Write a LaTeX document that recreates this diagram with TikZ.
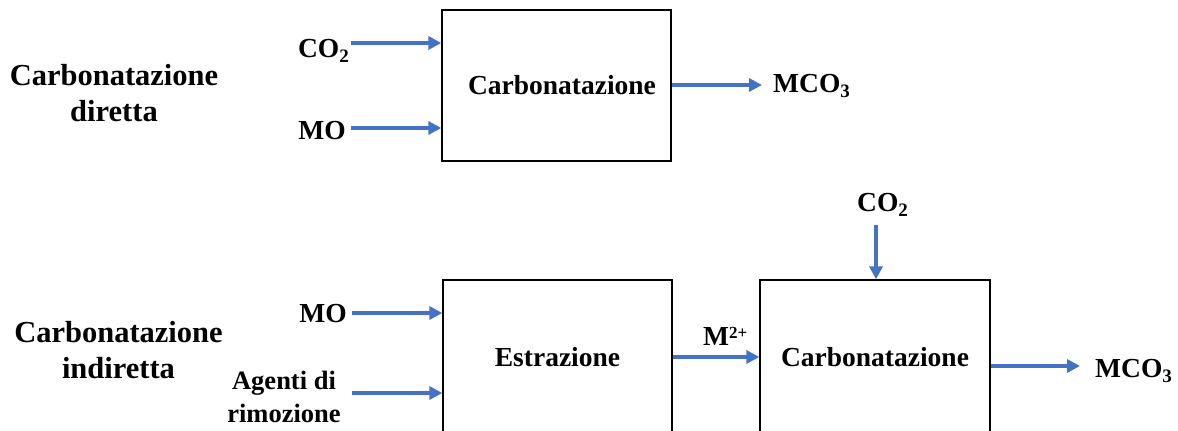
\documentclass[tikz,border=0pt]{standalone}
\usepackage{fontspec}
\setmainfont{Liberation Serif}
\usetikzlibrary{arrows.meta}
\definecolor{arrowblue}{HTML}{4472C4}
\newcommand{\subs}[1]{\raisebox{-5pt}{\fontsize{19}{19}\selectfont #1}}
\newcommand{\sups}[1]{\raisebox{7pt}{\fontsize{17}{17}\selectfont #1}}
\begin{document}
\begin{tikzpicture}[x=1pt,y=-1pt,
  procbox/.style={draw=black, line width=1.3pt, rectangle, inner sep=0pt,
    font=\fontsize{27.5}{30}\selectfont\bfseries},
  flowarrow/.style={draw=arrowblue, line width=4pt,
    -{Triangle[length=13pt,width=13pt]}},
  chem/.style={inner sep=0pt, font=\fontsize{27.5}{30}\selectfont\bfseries},
  sidelabel/.style={inner sep=0pt, align=center,
    font=\fontsize{30.5}{36}\selectfont\bfseries}]
\useasboundingbox (0,0) rectangle (1178,431);
\clip (0,0) rectangle (1178,431);

% --- Carbonatazione diretta ---
\node[sidelabel] (ldir) at (114,93) {Carbonatazione\\diretta};
\node[procbox, minimum width=229pt, minimum height=151pt] (tb) at (556.5,85.5) {\hspace*{11pt}Carbonatazione};
\node[chem, anchor=base east] (co2a) at (349,57) {CO\subs{2}};
\node[chem, anchor=base east] (moa) at (346,139) {MO};
\node[chem, anchor=base west] (mco3a) at (773,92) {MCO\subs{3}};
\coordinate (c1) at (351,43);
\coordinate (c2) at (351,128);
\coordinate (o1) at (762,85);
\draw[flowarrow] (c1) -- (c1 -| tb.west);
\draw[flowarrow] (c2) -- (c2 -| tb.west);
\draw[flowarrow] (o1 -| tb.east) -- (o1);

% --- Carbonatazione indiretta ---
\node[sidelabel] (lind) at (118.5,350.5) {Carbonatazione\\indiretta};
\node[procbox, minimum width=229pt, minimum height=154pt] (eb) at (557.5,357) {Estrazione};
\node[procbox, minimum width=230pt, minimum height=154pt] (cb) at (875,357) {Carbonatazione};
\node[chem, anchor=base east] (mob) at (347,322) {MO};
\node[chem, align=center, font=\fontsize{26.5}{33}\selectfont\bfseries] (agenti) at (284,396.5) {Agenti di\\rimozione};
\node[chem, anchor=base west] (m2) at (703,345) {M\sups{2+}};
\node[chem, anchor=base west] (co2b) at (857,211) {CO\subs{2}};
\node[chem, anchor=base west] (mco3b) at (1095,377) {MCO\subs{3}};
\coordinate (c3) at (352,313);
\coordinate (c4) at (352,393);
\coordinate (c5) at (876,225);
\coordinate (o2) at (1080,366);
\draw[flowarrow] (c3) -- (c3 -| eb.west);
\draw[flowarrow] (c4) -- (c4 -| eb.west);
\draw[flowarrow] (eb.east) -- (cb.west);
\draw[flowarrow] (c5) -- (c5 |- cb.north);
\draw[flowarrow] (o2 -| cb.east) -- (o2);
\end{tikzpicture}
\end{document}
